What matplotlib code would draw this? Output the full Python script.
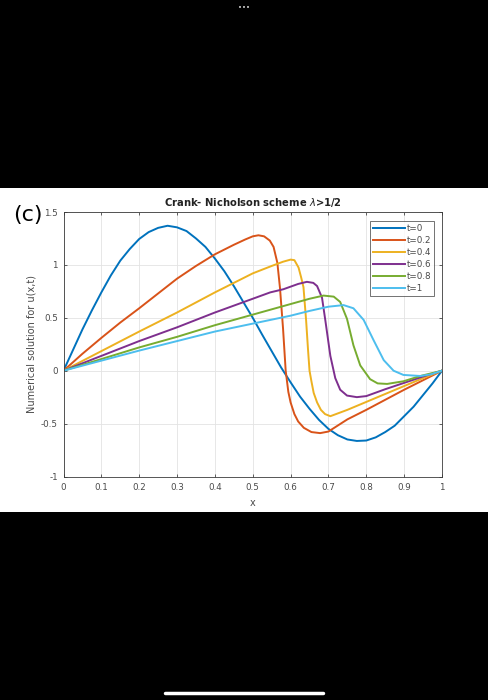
import matplotlib.pyplot as plt
from matplotlib.lines import Line2D
from matplotlib.patches import Rectangle

# values
x_t0 = [0, 0.025, 0.05, 0.075, 0.1, 0.125, 0.15, 0.175, 0.2, 0.225, 0.25, 0.275,
        0.3, 0.325, 0.35, 0.375, 0.4, 0.425, 0.45, 0.475, 0.5, 0.525, 0.55, 0.575,
        0.6, 0.625, 0.65, 0.675, 0.7, 0.725, 0.75, 0.775, 0.8, 0.825, 0.85, 0.875,
        0.9, 0.925, 0.95, 0.975, 1.0]
u_t0 = [0, 0.195, 0.39, 0.57, 0.74, 0.90, 1.04, 1.15, 1.245, 1.31, 1.35, 1.37,
        1.355, 1.32, 1.25, 1.17, 1.06, 0.94, 0.80, 0.65, 0.50, 0.34, 0.185, 0.03,
        -0.11, -0.245, -0.36, -0.465, -0.55, -0.61, -0.65, -0.664, -0.66, -0.63, -0.58, -0.52,
        -0.43, -0.34, -0.23, -0.12, 0]

x_t02 = [0, 0.05, 0.1, 0.15, 0.2, 0.25, 0.3, 0.35, 0.4, 0.45, 0.48, 0.5, 0.515,
         0.53, 0.545, 0.555, 0.565, 0.572, 0.58, 0.587, 0.594, 0.6, 0.61, 0.62,
         0.635, 0.655, 0.678, 0.7, 0.75, 0.8, 0.85, 0.9, 0.95, 1.0]
u_t02 = [0, 0.16, 0.31, 0.455, 0.59, 0.73, 0.87, 0.99, 1.10, 1.19, 1.24, 1.27, 1.28,
         1.27, 1.23, 1.17, 1.02, 0.78, 0.40, 0.0, -0.2, -0.3, -0.41, -0.48,
         -0.54, -0.58, -0.59, -0.575, -0.46, -0.37, -0.275, -0.18, -0.09, 0]

x_t04 = [0, 0.1, 0.2, 0.3, 0.4, 0.5, 0.55, 0.58, 0.6, 0.61, 0.621, 0.628, 0.634,
         0.641, 0.646, 0.65, 0.655, 0.661, 0.67, 0.68, 0.691, 0.705, 0.75, 0.8,
         0.85, 0.9, 0.95, 1.0]
u_t04 = [0, 0.185, 0.37, 0.55, 0.74, 0.92, 0.99, 1.03, 1.05, 1.045, 0.975, 0.88, 0.79,
         0.475, 0.2, 0.0, -0.1, -0.21, -0.3, -0.37, -0.41, -0.43, -0.37, -0.295,
         -0.22, -0.145, -0.07, 0]

x_t06 = [0, 0.1, 0.2, 0.3, 0.4, 0.5, 0.546, 0.581, 0.62, 0.643, 0.66, 0.67, 0.683,
         0.692, 0.705, 0.718, 0.731, 0.749, 0.775, 0.8, 0.85, 0.9, 0.95, 1.0]
u_t06 = [0, 0.14, 0.28, 0.41, 0.55, 0.68, 0.74, 0.77, 0.82, 0.84, 0.83, 0.80, 0.69,
         0.47, 0.14, -0.07, -0.18, -0.235, -0.25, -0.24, -0.175, -0.115, -0.055, 0]

x_t08 = [0, 0.1, 0.2, 0.3, 0.4, 0.5, 0.6, 0.65, 0.687, 0.714, 0.731, 0.749, 0.766,
         0.784, 0.81, 0.83, 0.855, 0.898, 0.943, 1.0]
u_t08 = [0, 0.11, 0.22, 0.32, 0.43, 0.53, 0.63, 0.68, 0.71, 0.70, 0.65, 0.49, 0.24,
         0.05, -0.08, -0.12, -0.125, -0.10, -0.05, 0]

x_t1 = [0, 0.1, 0.2, 0.3, 0.4, 0.5, 0.6, 0.65, 0.7, 0.74, 0.766, 0.793, 0.819,
        0.846, 0.872, 0.898, 0.943, 0.97, 1.0]
u_t1 = [0, 0.095, 0.19, 0.28, 0.37, 0.445, 0.52, 0.565, 0.605, 0.62, 0.59, 0.48, 0.29,
        0.10, 0.0, -0.04, -0.05, -0.035, 0]

labels = ['t=0', 't=0.2', 't=0.4', 't=0.6', 't=0.8', 't=1']
colors = ['#0072BD', '#D95319', '#EDB120', '#7E2F8E', '#77AC30', '#4DBEEE']
series = [(x_t0, u_t0), (x_t02, u_t02), (x_t04, u_t04),
          (x_t06, u_t06), (x_t08, u_t08), (x_t1, u_t1)]

xticks = [0, 0.1, 0.2, 0.3, 0.4, 0.5, 0.6, 0.7, 0.8, 0.9, 1]
xticklabels = ['0', '0.1', '0.2', '0.3', '0.4', '0.5', '0.6', '0.7', '0.8', '0.9', '1']
yticks = [-1, -0.5, 0, 0.5, 1, 1.5]
yticklabels = ['-1', '-0.5', '0', '0.5', '1', '1.5']

fig = plt.figure(figsize=(4.89, 7.0), dpi=100, facecolor='black')
# white panel of the screenshot
fig.patches.append(Rectangle((0, 1 - 512 / 700), 1, 324 / 700, transform=fig.transFigure,
                             facecolor='white', edgecolor='none', zorder=-5))

ax = fig.add_axes([63.5 / 489, 1 - 476.5 / 700, (442 - 63.5) / 489, (476.5 - 212) / 700])
ax.set_zorder(2)
for (xs, us), lab, c in zip(series, labels, colors):
    ax.plot(xs, us, color=c, lw=1.4, label=lab, solid_joinstyle='round')

ax.set_xlim(0, 1)
ax.set_ylim(-1, 1.5)
ax.set_xticks(xticks)
ax.set_xticklabels(xticklabels)
ax.set_yticks(yticks)
ax.set_yticklabels(yticklabels)
ax.grid(True, color='#e3e3e3', lw=0.6)
ax.set_axisbelow(True)
ax.tick_params(direction='in', top=True, right=True, length=2.5, width=0.5,
               labelsize=6.3, colors='#262626', labelcolor='#4a4a4a', pad=5)
ax.tick_params(axis='y', pad=4)
for s in ax.spines.values():
    s.set_linewidth(0.6)
    s.set_color('#3a3a3a')

ax.set_title('Crank- Nicholson scheme $\\lambda$>1/2', fontsize=7.2, fontweight='bold',
             color='#222222', pad=4)
ax.set_xlabel('x', fontsize=7, color='#4a4a4a', labelpad=4)
ax.set_ylabel('Numerical solution for u(x,t)', fontsize=7, color='#4a4a4a', labelpad=3)

leg = ax.legend(loc='upper right', fontsize=6.3, frameon=True, fancybox=False,
                handlelength=3.7, handletextpad=0.2, borderpad=0.35, labelspacing=0.33,
                bbox_to_anchor=(0.98, 0.965), borderaxespad=0)
leg.get_frame().set_edgecolor('#333333')
leg.get_frame().set_linewidth(0.6)
for t in leg.get_texts():
    t.set_color('#4a4a4a')

fig.text(13 / 489, 1 - 215 / 700, '(c)', fontsize=16, color='black', va='center', ha='left',
         zorder=3)

# phone screenshot decorations
fig.text(244 / 489, 1 - 8 / 700, '•••', fontsize=5, color='#cccccc', ha='center', va='center')
fig.add_artist(Line2D([165 / 489, 323 / 489], [1 - 693 / 700, 1 - 693 / 700],
                      transform=fig.transFigure, color='white', lw=2.5, solid_capstyle='round'))

fig.savefig('out.png', dpi=100, facecolor='black')
